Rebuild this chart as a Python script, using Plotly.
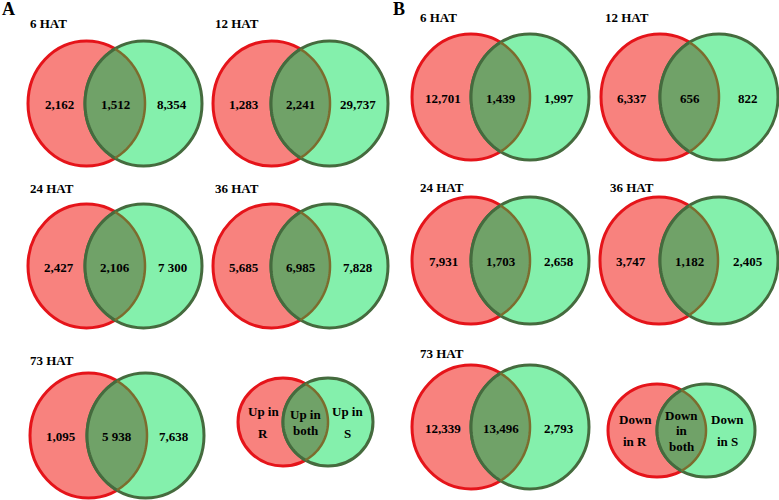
import numpy as np
import plotly.graph_objects as go

# ---------------- data ----------------
panel_letters = ["A", "B"]
titles_A = ["6 HAT", "12 HAT", "24 HAT", "36 HAT", "73 HAT"]
only_R_A = ["2,162", "1,283", "2,427", "5,685", "1,095"]
both_A = ["1,512", "2,241", "2,106", "6,985", "5 938"]
only_S_A = ["8,354", "29,737", "7 300", "7,828", "7,638"]

titles_B = ["6 HAT", "12 HAT", "24 HAT", "36 HAT", "73 HAT"]
only_R_B = ["12,701", "6,337", "7,931", "3,747", "12,339"]
both_B = ["1,439", "656", "1,703", "1,182", "13,496"]
only_S_B = ["1,997", "822", "2,658", "2,405", "2,793"]

key_A = [["Up in", "R"], ["Up in", "both"], ["Up in", "S"]]
key_B = [["Down", "in R"], ["Down", "in", "both"], ["Down", "in S"]]

# ---------------- layout geometry (pixels) ----------------
# (red_left, green_right, top, bottom, title_x, title_y)
geo_A = [(28, 202, 41, 166, 28, 23), (213, 388, 41, 166, 213, 23),
         (28, 202, 204, 328, 28, 188), (213, 388, 204, 328, 213, 188),
         (30, 204, 373, 498, 28, 360)]
geo_B = [(412, 589, 34, 160, 418, 17), (601, 778, 34, 160, 603, 17),
         (412, 589, 197, 324, 418, 187), (600, 778, 197, 324, 608, 187),
         (412, 589, 365, 489, 418, 353)]
key_geo_A = (238, 373, 378, 466, 90)
key_geo_B = (608, 755, 384, 477, 98)

RED_FILL = "#F8827E"
GREEN_FILL = "#84F0AC"
OVER_FILL = "#70A268"
RED_LINE = "#E5141A"
GREEN_LINE = "#456B3E"
OLIVE_LINE = "#7C6C2E"
FONT = "Liberation Serif, Times New Roman, serif"

shapes = []
annotations = []


def arc(cx, cy, rx, ry, t0, t1, n=60):
    t = np.linspace(t0, t1, n)
    return cx + rx * np.cos(t), cy + ry * np.sin(t)


def path_of(xs, ys, close=False):
    s = "M " + " L ".join(f"{x:.2f},{y:.2f}" for x, y in zip(xs, ys))
    return s + (" Z" if close else "")


def venn(red_left, green_right, top, bottom, w):
    rx = w / 2.0
    ry = (bottom - top) / 2.0
    cy = (top + bottom) / 2.0
    cxr = red_left + rx
    cxg = green_right - rx
    shapes.append(dict(type="circle", xref="x", yref="y", x0=red_left, x1=red_left + w,
                       y0=top, y1=bottom, fillcolor=RED_FILL,
                       line=dict(color=RED_LINE, width=3), layer="above"))
    shapes.append(dict(type="circle", xref="x", yref="y", x0=green_right - w, x1=green_right,
                       y0=top, y1=bottom, fillcolor=GREEN_FILL,
                       line=dict(color=GREEN_LINE, width=3), layer="above"))
    dx = (cxg - cxr) / 2.0
    a = np.arccos(dx / rx)
    rxs, rys = arc(cxr, cy, rx, ry, -a, a)
    gxs, gys = arc(cxg, cy, rx, ry, np.pi - a, np.pi + a)
    shapes.append(dict(type="path", xref="x", yref="y",
                       path=path_of(np.concatenate([rxs, gxs]), np.concatenate([rys, gys]), True),
                       fillcolor=OVER_FILL, line=dict(width=0), layer="above"))
    shapes.append(dict(type="path", xref="x", yref="y", path=path_of(gxs, gys),
                       line=dict(color=GREEN_LINE, width=3), layer="above"))
    shapes.append(dict(type="path", xref="x", yref="y", path=path_of(rxs, rys),
                       line=dict(color=OLIVE_LINE, width=2.5), layer="above"))
    return cy, cxr, cxg, (red_left + w + green_right - w) / 2.0


def text(x, y, s, size=13, xanchor="center"):
    annotations.append(dict(x=x, y=y, xref="x", yref="y", text=f"<b>{s}</b>", showarrow=False,
                            xanchor=xanchor, yanchor="middle",
                            font=dict(family=FONT, size=size, color="black")))


for geo, titles, r_, b_, s_ in [(geo_A, titles_A, only_R_A, both_A, only_S_A),
                                 (geo_B, titles_B, only_R_B, both_B, only_S_B)]:
    for i, (rl, gr, top, bot, tx, ty) in enumerate(geo):
        w = 117 if geo is geo_A else 118
        cy, cxr, cxg, xm = venn(rl, gr, top, bot, w)
        text(tx, ty, titles[i], xanchor="left")
        text(rl + 31, cy + 1, r_[i])
        text(xm, cy + 1, b_[i])
        text(gr - 30, cy + 1, s_[i])

# keys
for kg, lines in [(key_geo_A, key_A), (key_geo_B, key_B)]:
    rl, gr, top, bot, w = kg
    cy, cxr, cxg, xm = venn(rl, gr, top, bot, w)
    xs = [rl + w * 0.28, xm, gr - w * 0.28]
    for x, ls in zip(xs, lines):
        n = len(ls)
        step = 22 if n == 2 else 15.5
        if n == 2 and ls[1] == "both":
            step = 16
        for j, s in enumerate(ls):
            text(x, cy - step * (n - 1) / 2 + step * j, s)

text(0, 9, panel_letters[0], size=18, xanchor="left")
text(391, 9, panel_letters[1], size=18, xanchor="left")

fig = go.Figure()
fig.add_trace(go.Scatter(x=[0, 779], y=[0, 500], mode="markers", marker=dict(opacity=0),
                         hoverinfo="skip", showlegend=False))
fig.update_layout(width=779, height=500, margin=dict(l=0, r=0, t=0, b=0),
                  paper_bgcolor="white", plot_bgcolor="white",
                  xaxis=dict(range=[0, 779], visible=False, fixedrange=True),
                  yaxis=dict(range=[500, 0], visible=False, fixedrange=True),
                  shapes=shapes, annotations=annotations, showlegend=False)
fig.write_html("out.html", config={"displayModeBar": False},
               post_script="document.body.style.margin='0';document.body.style.overflow='hidden';")
